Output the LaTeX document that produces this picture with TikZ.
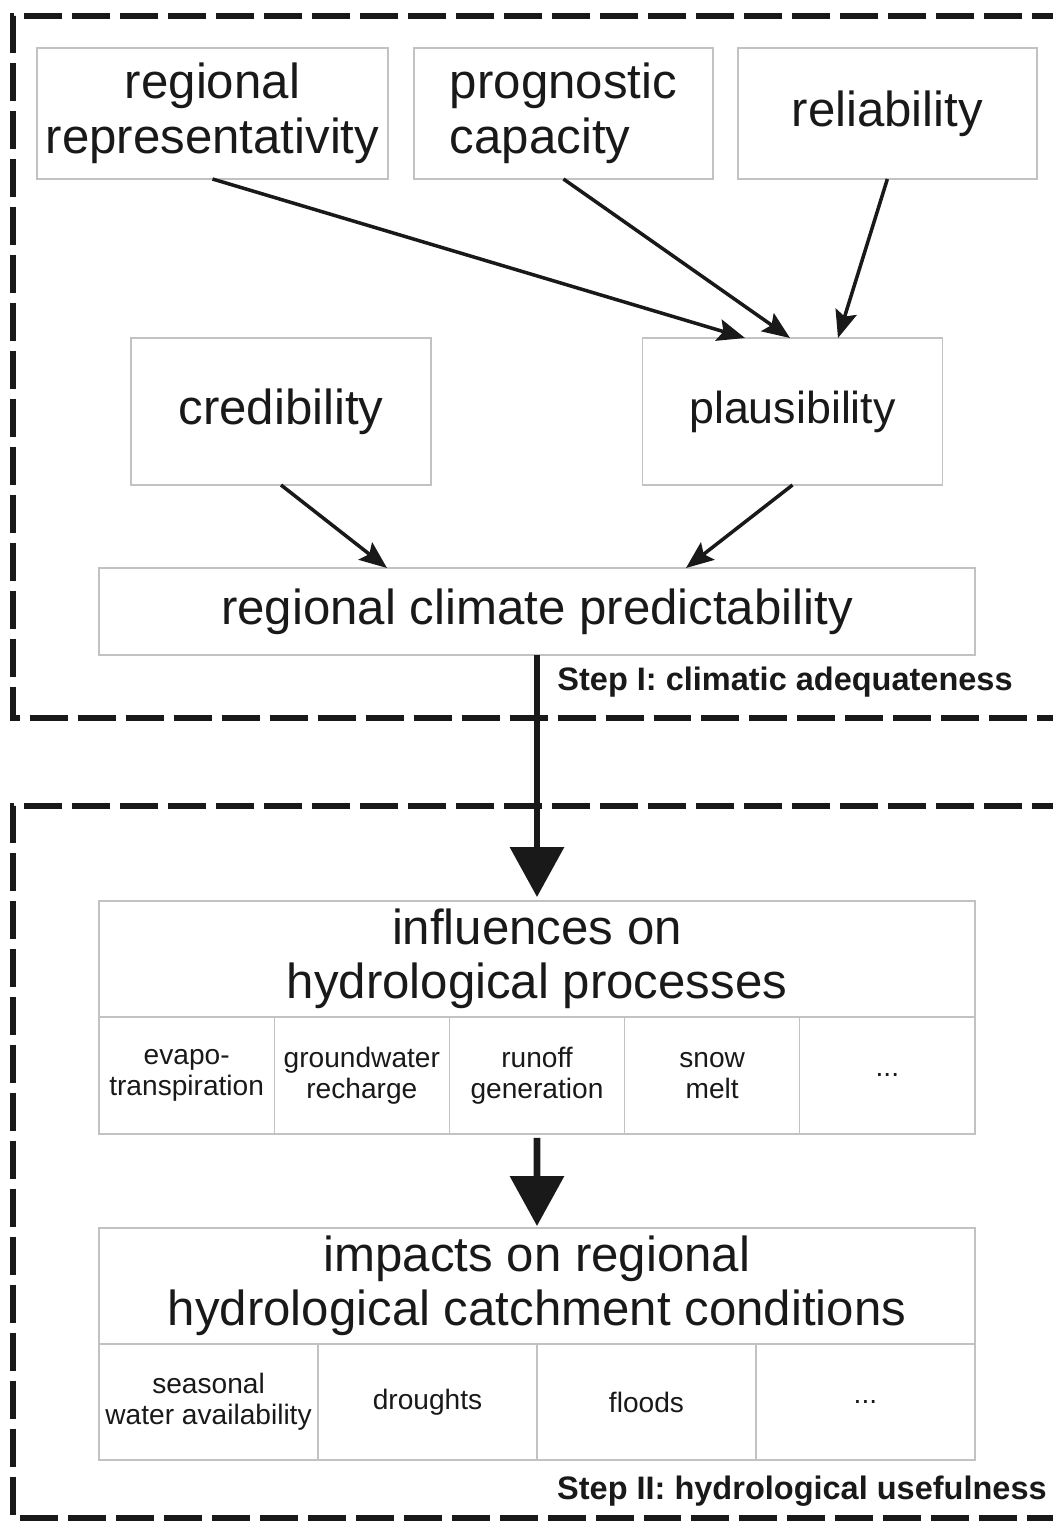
\documentclass[tikz,border=0pt]{standalone}
\usepackage{fontspec}
\setmainfont{Liberation Sans}
\usepackage{tikz}
\usetikzlibrary{arrows.meta,calc,positioning}
\definecolor{boxgray}{rgb}{0.76,0.76,0.76}
\definecolor{inkblack}{rgb}{0.10,0.10,0.10}
\tikzset{
  crit/.style={
    draw=boxgray,
    line width=0.8pt,
    align=center,
    inner sep=0pt,
    outer sep=0pt,
    text=inkblack,
    font=\fontsize{28}{31}\selectfont
  },
  cell/.style={
    draw=boxgray,
    line width=0.8pt,
    align=center,
    inner sep=0pt,
    outer sep=0pt,
    text=inkblack,
    font=\fontsize{16}{17.6}\selectfont
  },
  arrow/.style={
    -{Stealth[length=5.5mm,width=4.4mm,inset=1mm]},
    line width=2pt,
    inkblack
  },
  bigarrow/.style={
    -{Triangle[length=10mm,width=10.6mm]},
    line width=3.8pt,
    inkblack
  },
  frame/.style={
    line width=3.6pt,
    inkblack,
    dash pattern=on 0.76cm off 0.2cm
  },
  steplabel/.style={
    anchor=east,
    inner sep=0pt,
    text=inkblack,
    font=\fontsize{18.5}{22}\selectfont\bfseries
  }
}
\begin{document}
\begin{tikzpicture}[x=0.02cm,y=-0.02cm]
\useasboundingbox (0,0) rectangle (1053,1522);
% step I frame
\draw[frame] (1070,16) -- (13,16) -- (13,718) -- (1070,718);
% step II frame
\draw[frame] (1070,806) -- (13,806) -- (13,1518) -- (1070,1518);
% climatic criteria
\node[crit, minimum width=7.02cm, minimum height=2.62cm] (repr) at (212.5,113.5) {regional\\representativity};
\node[crit, minimum width=5.98cm, minimum height=2.62cm, right=0.52cm of repr, align=left] (progn) {prognostic\\capacity};
\node[crit, minimum width=5.98cm, minimum height=2.62cm, right=0.5cm of progn] (reliab) {reliability};
\node[crit, minimum width=6cm, minimum height=2.94cm] (cred) at (281,411.5) {credibility};
\node[crit, minimum width=6cm, minimum height=2.94cm, font=\fontsize{25.5}{31}\selectfont] (plaus) at (792.5,411.5) {plausibility};
\node[crit, minimum width=17.52cm, minimum height=1.74cm] (predict) at (537,611.5) {regional climate predictability};
\draw[arrow] (repr.south) -- ([xshift=-0.95cm]plaus.north);
\draw[arrow] (progn.south) -- ([xshift=-0.05cm]plaus.north);
\draw[arrow] (reliab.south) -- ([xshift=0.91cm]plaus.north);
\draw[arrow] (cred.south) -- ([xshift=-3cm]predict.north);
\draw[arrow] (plaus.south) -- ([xshift=2.98cm]predict.north);
\node[steplabel] (step1) at (1013,682) {Step I: climatic adequateness};
% hydrological processes
\node[crit, minimum width=17.52cm, minimum height=2.32cm] (influ) at (537,959) {influences on\\hydrological processes};
\node[cell, minimum width=3.504cm, minimum height=2.34cm, anchor=north west] (evap) at (influ.south west) {evapo-\\transpiration};
\node[cell, minimum width=3.504cm, minimum height=2.34cm, right=0cm of evap] (gwr) {groundwater\\recharge};
\node[cell, minimum width=3.504cm, minimum height=2.34cm, right=0cm of gwr] (runoff) {runoff\\generation};
\node[cell, minimum width=3.504cm, minimum height=2.34cm, right=0cm of runoff] (snow) {snow\\melt};
\node[cell, minimum width=3.504cm, minimum height=2.34cm, right=0cm of snow] (more1) {...};
% catchment conditions
\node[crit, minimum width=17.52cm, minimum height=2.32cm] (impact) at (537,1286) {impacts on regional\\hydrological catchment conditions};
\node[cell, minimum width=4.38cm, minimum height=2.32cm, anchor=north west] (season) at (impact.south west) {seasonal\\water availability};
\node[cell, minimum width=4.38cm, minimum height=2.32cm, right=0cm of season] (drought) {droughts};
\node[cell, minimum width=4.38cm, minimum height=2.32cm, right=0cm of drought] (flood) {floods};
\node[cell, minimum width=4.38cm, minimum height=2.32cm, right=0cm of flood] (more2) {...};
\draw[bigarrow] (predict.south) -- ([yshift=0.08cm]influ.north);
\draw[bigarrow] ([yshift=-0.08cm]runoff.south) -- ([yshift=0.04cm]impact.north);
\node[steplabel] (step2) at (1047,1491) {Step II: hydrological usefulness};
\end{tikzpicture}
\end{document}
